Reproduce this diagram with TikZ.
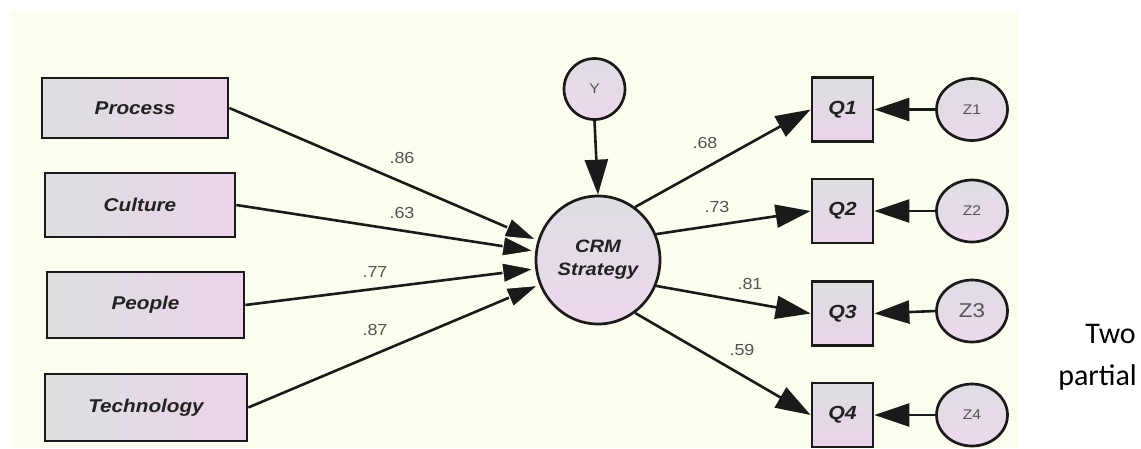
\documentclass[tikz,border=0pt]{standalone}
\usepackage{fontspec}
\setmainfont{Liberation Sans}[FakeStretch=1.12]
\newfontfamily\carlito{Carlito}
\usetikzlibrary{arrows.meta,shapes.geometric}
\definecolor{cream}{HTML}{FDFDEF}
\definecolor{boxL}{HTML}{DCDFE0}
\definecolor{boxR}{HTML}{EBD3EA}
\definecolor{circT}{HTML}{DEDDE3}
\definecolor{circB}{HTML}{EDD8EC}
\definecolor{lineC}{HTML}{1A1A1A}
\definecolor{txtC}{HTML}{222222}
\definecolor{grayC}{HTML}{555555}
\begin{document}
\begin{tikzpicture}[x=1pt,y=-1pt,
  lbox/.style={draw=lineC, line width=2.7pt, rectangle, left color=boxL, right color=boxR, inner sep=0pt, text=txtC, font=\fontsize{18.5}{22}\selectfont\bfseries\itshape},
  qbox/.style={draw=lineC, line width=2.7pt, rectangle, top color=boxL, bottom color=boxR, minimum width=61pt, minimum height=64pt, inner sep=0pt, text=txtC, font=\fontsize{19}{22}\selectfont\bfseries\itshape},
  lat/.style={draw=lineC, line width=2.7pt, ellipse, top color=circT, bottom color=circB, inner sep=0pt, text=grayC},
  zlat/.style={lat, minimum width=71pt, minimum height=62pt, font=\fontsize{14}{16}\selectfont},
  arr/.style={draw=lineC, line width=2.6pt, -{Triangle[length=35pt,width=23pt]}},
  arrL/.style={draw=lineC, line width=2.6pt, -{Triangle[length=33pt,width=21pt,color=cream,fill=lineC,line width=1pt]}},
  coef/.style={text=grayC, font=\fontsize{16}{18}\selectfont, inner sep=0pt}
]
\useasboundingbox (0,0) rectangle (1141,448);
\fill[cream] (12,11) rectangle (1018,448);

% exogenous boxes
\node[lbox, minimum width=186pt, minimum height=60pt] (process) at (135,108) {Process};
\node[lbox, minimum width=190pt, minimum height=64pt] (culture) at (140,205) {Culture};
\node[lbox, minimum width=197pt, minimum height=66pt] (people) at (145.5,305) {People};
\node[lbox, minimum width=202pt, minimum height=67pt] (tech) at (146,407.5) {Technology};

% latent
\node[lat, minimum width=124pt, minimum height=128pt, text=txtC, align=center, font=\fontsize{18}{23}\selectfont\bfseries\itshape] (crm) at (598,260) {CRM\\Strategy};
\node[lat, minimum width=61pt, minimum height=61pt, font=\fontsize{14}{16}\selectfont] (yv) at (594.5,89) {Y};

% indicators
\node[qbox] (q1) at (842.5,109.5) {Q1};
\node[qbox] (q2) at (842.5,211) {Q2};
\node[qbox] (q3) at (842.5,313.5) {Q3};
\node[qbox] (q4) at (842.5,415) {Q4};

% errors
\node[zlat] (z1) at (972,109.5) {Z1};
\node[zlat] (z2) at (972,211) {Z2};
\node[zlat, font=\fontsize{20}{22}\selectfont] (z3) at (972,311) {Z3};
\node[zlat] (z4) at (972,415) {Z4};

% connectors
\draw[arrL] (process.east) -- (crm.162);
\draw[arrL] (culture.east) -- (crm.172);
\draw[arrL] (people.east) -- (crm.188);
\draw[arrL] (tech.east) -- (crm.203);
\draw[arr] (yv.south) -- (crm.north);
\draw[arr] (crm.55) -- (q1.west);
\draw[arr] (crm.24) -- (q2.west);
\draw[arr] (crm.-24) -- (q3.west);
\draw[arr] (crm.-55) -- (q4.west);
\draw[arr] (z1.west) -- (q1.east);
\draw[arr] (z2.west) -- (q2.east);
\draw[arr] (z3.west) -- (q3.east);
\draw[arr] (z4.west) -- (q4.east);

% coefficients
\node[coef] (c86) at (402,158) {.86};
\node[coef] (c63) at (402,213) {.63};
\node[coef] (c77) at (375,272) {.77};
\node[coef] (c87) at (375,330) {.87};
\node[coef] (c68) at (705,143) {.68};
\node[coef] (c73) at (717,207) {.73};
\node[coef] (c81) at (750,284) {.81};
\node[coef] (c59) at (742,350) {.59};

% cut-off slide text
\node[anchor=base east, inner sep=0pt, text=black, font=\carlito\fontsize{30}{36}\selectfont] (two) at (1136,343) {Two};
\node[anchor=base east, inner sep=0pt, text=black, font=\carlito\fontsize{30}{36}\selectfont] (partial) at (1137,385) {partial};
\end{tikzpicture}
\end{document}
